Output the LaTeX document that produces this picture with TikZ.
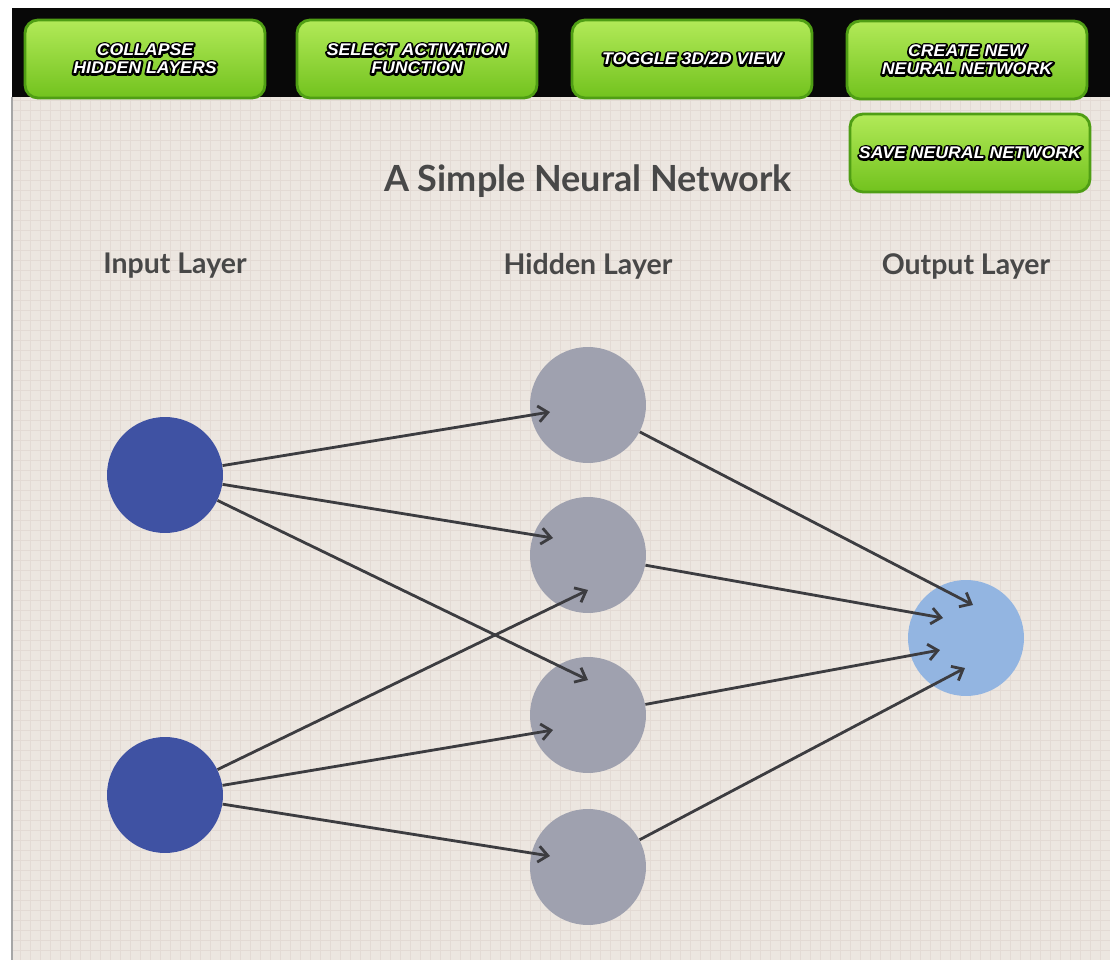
\documentclass[tikz,border=0pt]{standalone}
\usepackage{fontspec}
\setmainfont{Lato}
\newfontfamily\btnfont{Liberation Sans}[FakeStretch=1.05]
\newfontfamily\btnshadow{Liberation Sans}[FakeStretch=1.05, FakeBold=24]
\newcommand{\outl}[1]{\special{pdf:literal direct 1 j}\rlap{\color{black}\btnshadow #1}#1}
\usetikzlibrary{arrows.meta}

\definecolor{paper}{HTML}{ECE6E0}
\definecolor{paperline}{HTML}{E3DAD4}
\definecolor{inblue}{HTML}{3F52A3}
\definecolor{hidgray}{HTML}{9FA1AF}
\definecolor{outblue}{HTML}{93B5E1}
\definecolor{inkgray}{HTML}{484848}
\definecolor{linkgray}{HTML}{3C3C40}
\definecolor{btnlight}{HTML}{B2EA58}
\definecolor{btndark}{HTML}{72C21E}
\definecolor{btnedge}{HTML}{4F9E14}

\begin{document}
\begin{tikzpicture}[x=0.02cm, y=-0.02cm,
    neuron/.style={circle, minimum size=2.32cm, inner sep=0pt},
    inneuron/.style={neuron, fill=inblue},
    hidneuron/.style={neuron, fill=hidgray},
    outneuron/.style={neuron, fill=outblue},
    btn/.style={rectangle, rounded corners=0.26cm, draw=btnedge, line width=1.6pt,
                top color=btnlight, bottom color=btndark,
                minimum width=4.8cm, minimum height=1.56cm, align=center,
                text=white, font=\btnfont\bfseries\itshape\fontsize{9.6}{10.2}\selectfont},
    layer/.style={font=\bfseries\fontsize{16.2}{19}\selectfont, text=inkgray},
    link/.style={draw=linkgray, line width=1.6pt,
                 -{Straight Barb[length=1.9mm, width=3.2mm]}}
  ]

  \useasboundingbox (0,0) rectangle (1110,960);
  \fill[white] (0,0) rectangle (1110,960);
  \fill[paper] (12,97) rectangle (1110,960);
  \foreach \gx in {20,30,...,1110}
    \draw[paperline, line width=0.5pt] (\gx,97) -- (\gx,960);
  \foreach \gy in {100,110,...,960}
    \draw[paperline, line width=0.5pt] (12,\gy) -- (1110,\gy);
  \draw[black!35, line width=0.6pt] (12,97) -- (12,960);
  \fill[black!97] (12,8) rectangle (1110,97);

  % toolbar
  \node[btn] (collapse) at (145,59) {\outl{COLLAPSE}\\\outl{HIDDEN LAYERS}};
  \node[btn] (activation) at (417,59) {\outl{SELECT ACTIVATION}\\\outl{FUNCTION}};
  \node[btn] (toggle) at (692,59) {\outl{TOGGLE 3D/2D VIEW}};
  \node[btn] (create) at (967,60) {\outl{CREATE NEW}\\\outl{NEURAL NETWORK}};
  \node[btn] (save) at (970,153) {\outl{SAVE NEURAL NETWORK}};

  \node[font=\bfseries\fontsize{20.5}{24}\selectfont, text=inkgray] (title) at (588,181) {A Simple Neural Network};

  \node[layer] (inlabel) at (175,266) {Input Layer};
  \node[layer] (hidlabel) at (588,266) {Hidden Layer};
  \node[layer] (outlabel) at (966,266) {Output Layer};

  \node[inneuron] (i1) at (165,475) {};
  \node[inneuron] (i2) at (165,795) {};
  \node[hidneuron] (h1) at (588,405) {};
  \node[hidneuron] (h2) at (588,555) {};
  \node[hidneuron] (h3) at (588,715) {};
  \node[hidneuron] (h4) at (588,867) {};
  \node[outneuron] (o1) at (966,638) {};

  % arrow tips sit inside the target neuron
  \coordinate (i1h1) at (550,412);
  \coordinate (i1h2) at (553,538);
  \coordinate (i1h3) at (588,680);
  \coordinate (i2h2) at (588,590);
  \coordinate (i2h3) at (553,730);
  \coordinate (i2h4) at (550,856);
  \coordinate (h1o1) at (973,605);
  \coordinate (h2o1) at (943,618);
  \coordinate (h3o1) at (940,650);
  \coordinate (h4o1) at (965,668);

  \draw[link] (i1) -- (i1h1);
  \draw[link] (i1) -- (i1h2);
  \draw[link] (i1) -- (i1h3);
  \draw[link] (i2) -- (i2h2);
  \draw[link] (i2) -- (i2h3);
  \draw[link] (i2) -- (i2h4);
  \draw[link] (h1) -- (h1o1);
  \draw[link] (h2) -- (h2o1);
  \draw[link] (h3) -- (h3o1);
  \draw[link] (h4) -- (h4o1);

\end{tikzpicture}
\end{document}
